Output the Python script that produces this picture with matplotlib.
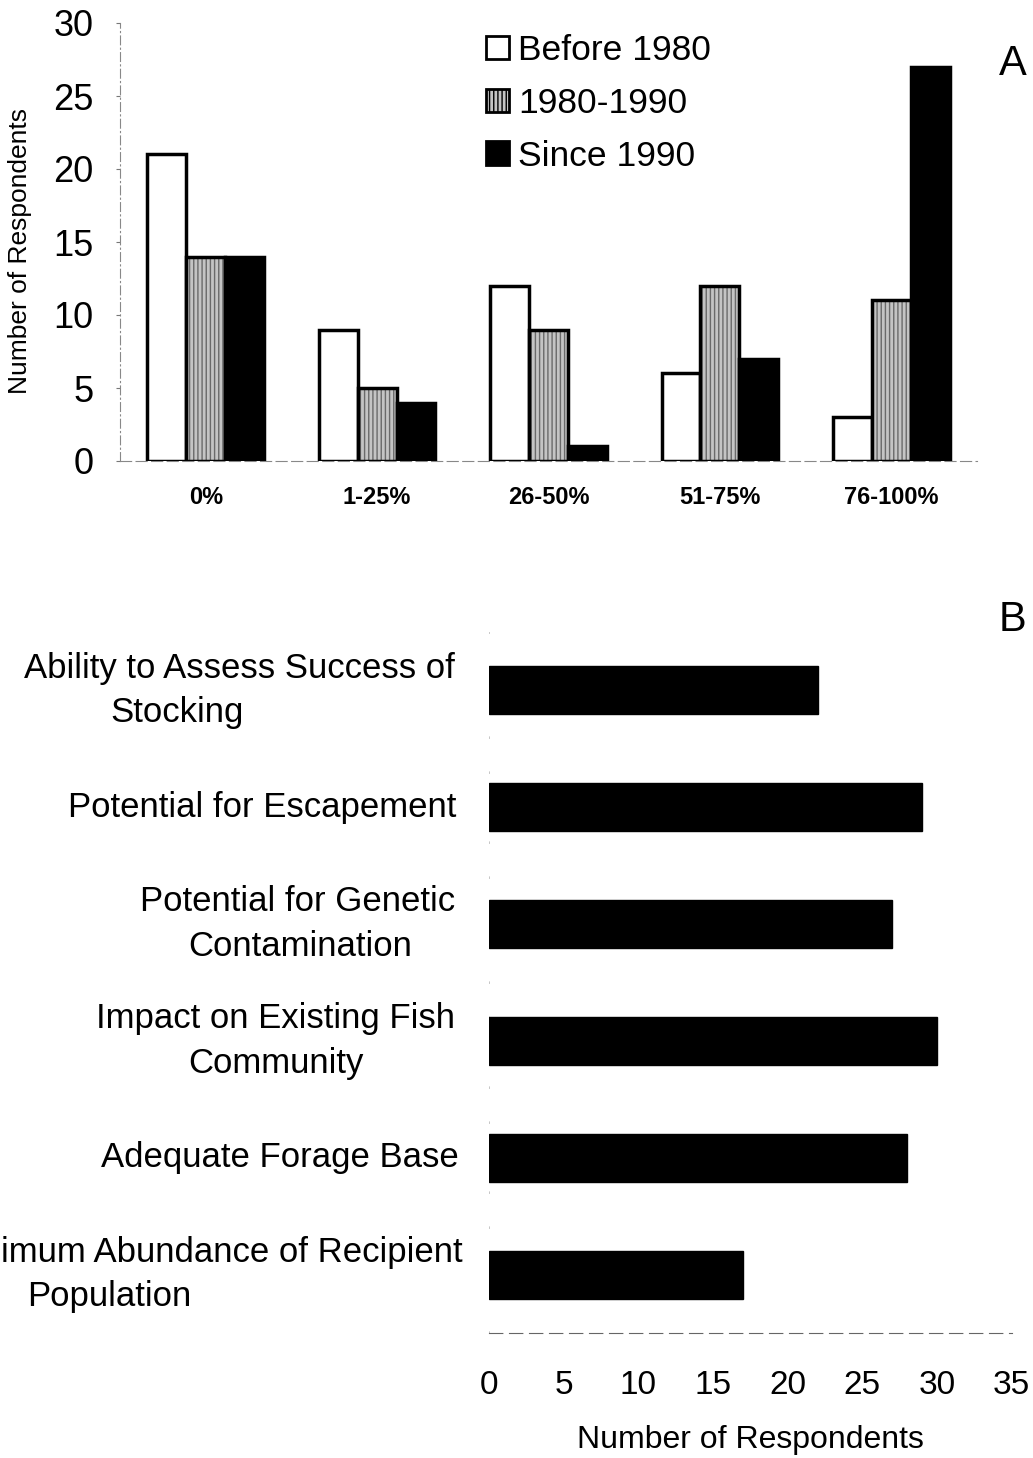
import matplotlib
matplotlib.use("Agg")
import matplotlib.pyplot as plt
import matplotlib.transforms as mtransforms
import numpy as np
from matplotlib.patches import Patch

plt.rcParams['font.family'] = ['Liberation Sans', 'DejaVu Sans']

# ---- Panel A data ----
categories_a = ["0%", "1-25%", "26-50%", "51-75%", "76-100%"]
before_1980 = [21, 9, 12, 6, 3]
between_1980_1990 = [14, 5, 9, 12, 11]
since_1990 = [14, 4, 1, 7, 27]
series_labels = ["Before 1980", "1980-1990", "Since 1990"]
yticks_a = [0, 5, 10, 15, 20, 25, 30]

# ---- Panel B data ----
categories_b = ["Ability to Assess Success of\nStocking",
                "Potential for Escapement",
                "Potential for Genetic\nContamination",
                "Impact on Existing Fish\nCommunity",
                "Adequate Forage Base",
                "Minimum Abundance of Recipient\nPopulation"]
respondents_b = [22, 29, 27, 30, 28, 17]
xticks_b = [0, 5, 10, 15, 20, 25, 30, 35]

W, H = 1033, 1458
fig = plt.figure(figsize=(W / 100, H / 100), dpi=100)

# ---------------- Panel A ----------------
axA = fig.add_axes([120 / W, 1 - 461 / H, (977 - 120) / W, (461 - 23) / H])
x = np.arange(len(categories_a))
bw = 0.227
grey_face = '#c4c4c4'
axA.bar(x - bw, before_1980, bw, color='white', edgecolor='black', linewidth=2.5, zorder=3)
axA.bar(x, between_1980_1990, bw, color=grey_face, edgecolor='#6a6a6a', hatch='||||', linewidth=0, zorder=3)
axA.bar(x, between_1980_1990, bw, fill=False, edgecolor='black', linewidth=2.5, zorder=4)
axA.bar(x + bw, since_1990, bw, color='black', edgecolor='black', linewidth=2.5, zorder=3)

axA.set_xlim(-0.5, len(categories_a) - 0.5)
axA.set_ylim(0, 30)
axA.set_yticks(yticks_a)
axA.set_yticklabels([str(t) for t in yticks_a], fontsize=26)
axA.set_xticks(x)
axA.set_xticklabels(categories_a, fontsize=17, fontweight='bold')
axA.tick_params(axis='x', length=0, pad=18)
axA.tick_params(axis='y', length=3, width=0.8, color='#777777', pad=16)
axA.set_ylabel("Number of Respondents", fontsize=19)
axA.yaxis.set_label_coords((20 - 120) / 857, 0.48)
axA.yaxis.label.set_va('center')
for s in ['top', 'right']:
    axA.spines[s].set_visible(False)
axA.spines['left'].set_color('#888888')
axA.spines['left'].set_linewidth(0.8)
axA.spines['left'].set_linestyle((0, (8, 3, 1, 3)))
axA.spines['bottom'].set_color('#888888')
axA.spines['bottom'].set_linewidth(0.8)
axA.spines['bottom'].set_linestyle((0, (10, 4)))

handles = [Patch(facecolor='white', edgecolor='black', linewidth=2),
           Patch(facecolor=grey_face, edgecolor='black', hatch='||||', linewidth=2),
           Patch(facecolor='black', edgecolor='black', linewidth=2)]
fig.legend(handles, series_labels, loc='upper left', bbox_to_anchor=(486 / W, 1 - 34 / H),
           frameon=False, fontsize=25.5, handlelength=0.65, handleheight=0.65,
           handletextpad=0.25, labelspacing=0.56, borderaxespad=0, borderpad=0)

fig.text(1013 / W, 1 - 64 / H, "A", fontsize=30, ha='center', va='center')

# ---------------- Panel B ----------------
axB = fig.add_axes([489 / W, 1 - 1333 / H, (1011.7 - 489) / W, (1333 - 632) / H])
y = np.arange(len(categories_b))
axB.barh(y, respondents_b, height=0.41, color='black', edgecolor='black', zorder=3)
axB.set_ylim(len(categories_b) - 0.5, -0.5)
axB.set_xlim(0, 35)
axB.set_xticks(xticks_b)
axB.set_xticklabels([str(t) for t in xticks_b], fontsize=24)
axB.tick_params(axis='x', length=0, pad=27)
axB.tick_params(axis='y', length=0)
axB.set_yticks(y)
axB.set_yticklabels([])
axB.set_xlabel("Number of Respondents", fontsize=23)
axB.xaxis.set_label_coords(0.5, -(1440 - 1333) / 701)
axB.xaxis.label.set_va('center')
for s in ['top', 'right']:
    axB.spines[s].set_visible(False)
axB.spines['left'].set_color('#bbbbbb')
axB.spines['left'].set_linewidth(0.6)
axB.spines['left'].set_linestyle((0, (2, 40)))
axB.spines['bottom'].set_color('#666666')
axB.spines['bottom'].set_linewidth(0.8)
axB.spines['bottom'].set_linestyle((0, (12, 6)))

# category labels (drawn line by line to mimic the original placement)
label_right_px = [455, 456, 455, 455, 459, 463]
line_gap = 0.19            # half distance between two lines, data units
second_line_shift_px = [-62, 0, 3, 0, 0, -95]
trans = mtransforms.blended_transform_factory(fig.transFigure, axB.transData)
fig.canvas.draw()
renderer = fig.canvas.get_renderer()
for i, lab in enumerate(categories_b):
    lines = lab.split("\n")
    if len(lines) == 1:
        axB.text(label_right_px[i] / W, i, lines[0], transform=trans, ha='right', va='center',
                 fontsize=25, clip_on=False)
    else:
        t1 = axB.text(label_right_px[i] / W, i - line_gap, lines[0], transform=trans, ha='right',
                      va='center', fontsize=25, clip_on=False)
        bb = t1.get_window_extent(renderer)
        cx = (bb.x0 + bb.x1) / 2 + second_line_shift_px[i]
        axB.text(cx / W, i + line_gap, lines[1], transform=trans, ha='center', va='center',
                 fontsize=25, clip_on=False)

fig.text(1013 / W, 1 - 620 / H, "B", fontsize=30, ha='center', va='center')

fig.savefig("out.png", dpi=100)
